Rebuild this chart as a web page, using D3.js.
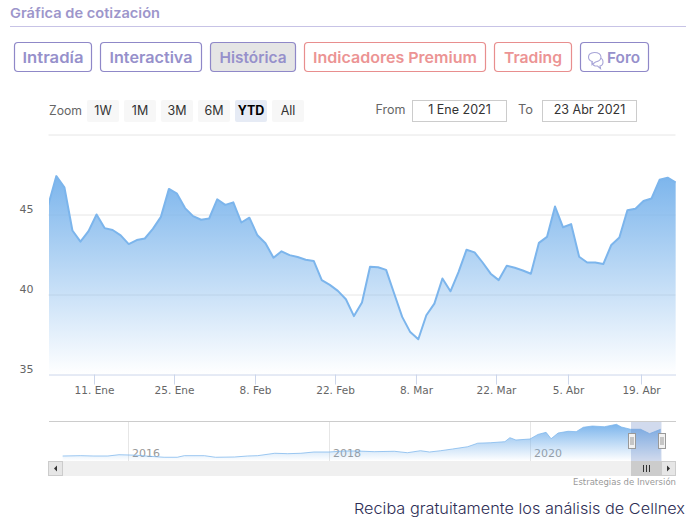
<!DOCTYPE html>
<html><head><meta charset="utf-8">
<style>html,body{margin:0;padding:0;background:#fff}svg{display:block}</style>
<script src="https://cdn.jsdelivr.net/npm/d3@7"></script>
</head><body><svg id="c" width="691" height="523"></svg>
<script>
// Price closes per trading session, 2021 YTD
const closes=[45.6,47.4,46.7,44.0,43.3,43.96,45.0,44.15,44.03,43.7,43.15,43.4,43.5,44.1,44.85,46.6,46.3,45.4,44.9,44.67,44.75,45.95,45.6,45.76,44.5,44.8,43.7,43.2,42.3,42.7,42.46,42.34,42.17,42.1,40.9,40.6,40.23,39.7,38.65,39.5,41.73,41.7,41.54,40.06,38.6,37.65,37.2,38.7,39.43,41.0,40.2,41.4,42.8,42.63,42.0,41.3,40.9,41.8,41.67,41.5,41.3,43.23,43.6,45.5,44.2,44.4,42.36,42.0,42.0,41.9,43.1,43.56,45.26,45.36,45.84,46.0,47.17,47.3,47.0];
const xTickSessions=[5.68,15.63,25.7,35.65,45.71,55.66,64.61,73.69];
const xTickLabels=["11. Ene","25. Ene","8. Feb","22. Feb","8. Mar","22. Mar","5. Abr","19. Abr"];
const yTicks=[35,40,45,50];
// Full-history navigator series
const navYears=[2015.35,2015.53,2015.66,2015.80,2015.91,2016.0,2016.09,2016.22,2016.36,2016.49,2016.56,2016.76,2016.87,2017.06,2017.19,2017.29,2017.46,2017.59,2017.72,2017.85,2018.0,2018.15,2018.28,2018.45,2018.65,2018.78,2018.91,2019.0,2019.11,2019.23,2019.38,2019.48,2019.61,2019.75,2019.80,2019.86,2020.0,2020.08,2020.16,2020.21,2020.28,2020.38,2020.46,2020.53,2020.62,2020.74,2020.86,2020.91,2021.0,2021.1,2021.19,2021.3];
const navValues=[14,14.4,14,14,15.6,15.3,14.9,13.6,12.4,12.4,14.4,14.4,12.4,12.75,14,14.4,17.4,16.9,17.4,19,19,20.25,20.25,19.4,19.9,18.1,20.6,19,20.6,22.75,25.6,30,30.6,31.9,36.9,34,35.25,41,43.6,35.6,42.75,44.9,44.4,49.9,51.5,50.6,53.6,50.25,47.4,47.4,41.9,47.4];
const navYearTicks=[2016,2018,2020];
const tabLabels=["Intradía","Interactiva","Histórica","Indicadores Premium","Trading","Foro"];
const zoomLabels=["1W","1M","3M","6M","YTD","All"];
const dateFrom="1 Ene 2021", dateTo="23 Abr 2021";

const UI="Inter, 'Noto Sans', sans-serif", AX="'DejaVu Sans', sans-serif";
const svg=d3.select("#c");
const defs=svg.append("defs");
function grad(id,o){const g=defs.append("linearGradient").attr("id",id).attr("x1",0).attr("x2",0).attr("y1",0).attr("y2",1);
 g.append("stop").attr("offset",0).attr("stop-color","#7cb5ec").attr("stop-opacity",o);
 g.append("stop").attr("offset",1).attr("stop-color","#7cb5ec").attr("stop-opacity",0);}
grad("gm",1);grad("gn",1);
defs.append("clipPath").attr("id","pl").append("rect").attr("x",49).attr("y",130).attr("width",627).attr("height",245);

function text(s,x,y,o={}){const t=svg.append("text").attr("x",x).attr("y",y).text(s)
 .attr("font-family",o.f||UI).attr("font-size",o.s||13).attr("fill",o.c||"#333").attr("font-weight",o.w||400).attr("text-anchor",o.a||"start");
 if(o.tl)t.attr("textLength",o.tl).attr("lengthAdjust","spacingAndGlyphs");return t;}

// Header
text("Gráfica de cotización",10,18,{s:13.5,w:600,c:"#9d96cb",tl:150});
svg.append("line").attr("x1",10).attr("x2",686).attr("y1",26.5).attr("y2",26.5).attr("stroke","#c7c3e6");

// Tabs
const purple="#8f88c8", red="#e88e8e";
const tabX=[14.5,100.5,210.5,304.5,494.5,580.5], tabW=[77,101,85,181,77,68];
tabLabels.forEach((l,i)=>{const c=(i==3||i==4)?red:purple;
 svg.append("rect").attr("x",tabX[i]).attr("y",42.5).attr("width",tabW[i]).attr("height",29).attr("rx",3.5)
  .attr("fill",i==2?"#e5e5e5":"#fff").attr("stroke",c).attr("stroke-width",1.2);
 const tw=[61,83,67,164,58,33][i];
 const cx=i==5?623.5:tabX[i]+tabW[i]/2;
 text(l,cx,63,{s:15,w:600,c:(i==3||i==4)?"#ec9494":"#9690cb",a:"middle",tl:tw});
});
// Foro icon
const ic=svg.append("g").attr("transform","translate(588,52)").attr("fill","#fff").attr("stroke","#a9a6d8").attr("stroke-width",1.1);
ic.append("path").attr("d","M7 6 h4 q4 0 4 4 q0 3.5 -3 4 l0.5 2.5 l-3 -2.5 h-2.5 q-3 -1 -3 -4 q0 -4 3 -4z");
ic.append("path").attr("d","M6.5 0.5 q6 0 6.5 4.5 q0 4 -5.5 5 l-3.5 2.5 l0.3 -3 q-3.8 -1 -3.8 -4.5 q0 -4 5.8 -4.5z");

// Range selector
text("Zoom",49,115,{s:12.5,c:"#666",tl:33});
zoomLabels.forEach((l,i)=>{const x=87+37*i,a=l=="YTD";
 svg.append("rect").attr("x",x).attr("y",100).attr("width",32).attr("height",22).attr("rx",2).attr("fill",a?"#e6ebf5":"#f7f7f7");
 text(l,x+16,115,{s:12.5,c:a?"#000":"#333",w:a?700:400,a:"middle"});
});
text("From",375.5,114,{s:12.5,c:"#666",tl:30});
text("To",518,114,{s:12.5,c:"#666",tl:15});
[[412.5,dateFrom],[542.5,dateTo]].forEach(([x,l])=>{
 svg.append("rect").attr("x",x).attr("y",100.5).attr("width",94).attr("height",21).attr("fill","#fff").attr("stroke","#ccc").attr("stroke-width",1);
 text(l,x+47,114,{s:12.5,c:"#333",a:"middle"});
});

// Main chart
const x=d3.scaleLinear().domain([0,closes.length-1]).range([48.3,675.67]);
const y=d3.scaleLinear().domain([35,50]).range([374.5,134.5]);
const yAxis=d3.axisLeft(y).tickValues(yTicks).tickSize(-627).tickPadding(0).tickFormat(d=>d==50?"":d);
const yG=svg.append("g").attr("transform","translate(48.5,0)").call(yAxis);
yG.select(".domain").remove();
yG.selectAll(".tick line").attr("stroke",d=>d==35?"none":"#e6e6e6");
yG.selectAll(".tick text").attr("x",-15).attr("y",-2).attr("dy",0).attr("fill","#666").attr("font-size",11).attr("font-family",AX).attr("text-anchor","end");

const area=d3.area().x((d,i)=>x(i)).y0(374.5).y1(d=>y(d));
const line=d3.line().x((d,i)=>x(i)).y(d=>y(d));
const plot=svg.append("g").attr("clip-path","url(#pl)");
plot.append("path").attr("d",area(closes)).attr("fill","url(#gm)");
plot.append("path").attr("d",line(closes)).attr("fill","none").attr("stroke","#7cb5ec").attr("stroke-width",2).attr("stroke-linejoin","round");

const xAxis=d3.axisBottom(x).tickValues(xTickSessions).tickFormat((d,i)=>xTickLabels[i]).tickSize(10).tickPadding(4);
const xG=svg.append("g").attr("transform","translate(0,374.5)").call(xAxis);
xG.select(".domain").attr("d","M49,0.5H676").attr("stroke","#ccd6eb");
xG.selectAll(".tick line").attr("stroke","#ccd6eb");
xG.selectAll(".tick text").attr("fill","#666").attr("font-size",10.5).attr("font-family",AX).attr("dy",0).attr("y",19);

// Navigator
const nx=d3.scaleLinear().domain([2016,2020]).range([128,530]);
const ny=d3.scaleLinear().domain([7.75,57.75]).range([461,421]);
const navAxis=d3.axisBottom(nx).tickValues(navYearTicks).tickSize(-40).tickFormat(d3.format("d"));
const nG=svg.append("g").attr("transform","translate(0,461)").call(navAxis);
nG.select(".domain").remove();
nG.selectAll(".tick line").attr("stroke","#e6e6e6");
nG.selectAll(".tick text").attr("fill","#999").attr("font-size",11).attr("font-family",AX).attr("text-anchor","start").attr("x",3.5).attr("y",-4).attr("dy",0);
const nArea=d3.area().x((d,i)=>nx(navYears[i])).y0(461).y1(d=>ny(d));
const nLine=d3.line().x((d,i)=>nx(navYears[i])).y(d=>ny(d));
svg.append("path").attr("d",nArea(navValues)).attr("fill","url(#gn)");
svg.append("path").attr("d",nLine(navValues)).attr("fill","none").attr("stroke","#7cb5ec").attr("stroke-opacity",.75).attr("stroke-width",1);
svg.append("line").attr("x1",49).attr("x2",676).attr("y1",421.5).attr("y2",421.5).attr("stroke","#ccc");
// selection mask
svg.append("rect").attr("x",631).attr("y",422).attr("width",30.5).attr("height",39).attr("fill","#6685c2").attr("fill-opacity",.3);

// Scrollbar
svg.append("rect").attr("x",48).attr("y",461).attr("width",628).attr("height",15).attr("fill","#f0f0f0");
svg.append("rect").attr("x",48.5).attr("y",461.5).attr("width",14).attr("height",14).attr("fill","#e6e6e6").attr("stroke","#ccc");
svg.append("path").attr("d","M54 468.5 l3 -3 v6z").attr("fill","#333");
svg.append("rect").attr("x",631).attr("y",461).attr("width",30.5).attr("height",15).attr("fill","#ccc");
[643.5,646.5,649.5].forEach(v=>svg.append("line").attr("x1",v).attr("x2",v).attr("y1",465).attr("y2",472).attr("stroke","#333"));
svg.append("rect").attr("x",661.5).attr("y",461.5).attr("width",14).attr("height",14).attr("fill","#e6e6e6").attr("stroke","#ccc");
svg.append("path").attr("d","M670 468.5 l-3 -3 v6z").attr("fill","#333");
// Handles
[628,658].forEach(h=>{
 svg.append("rect").attr("x",h+.5).attr("y",433.5).attr("width",7).attr("height",15).attr("fill","#f2f2f2").attr("stroke","#999");
 [h+3.5,h+5.5].forEach(v=>svg.append("line").attr("x1",v-.5).attr("x2",v-.5).attr("y1",437).attr("y2",445).attr("stroke","#999"));
});

// Credits and footer
text("Estrategias de Inversión",676,485,{s:9,c:"#999",f:AX,a:"end",tl:103});
text("Reciba gratuitamente los análisis de Cellnex",354,514,{s:15,c:"#2d2d55",w:300,tl:331});
</script></body></html>
